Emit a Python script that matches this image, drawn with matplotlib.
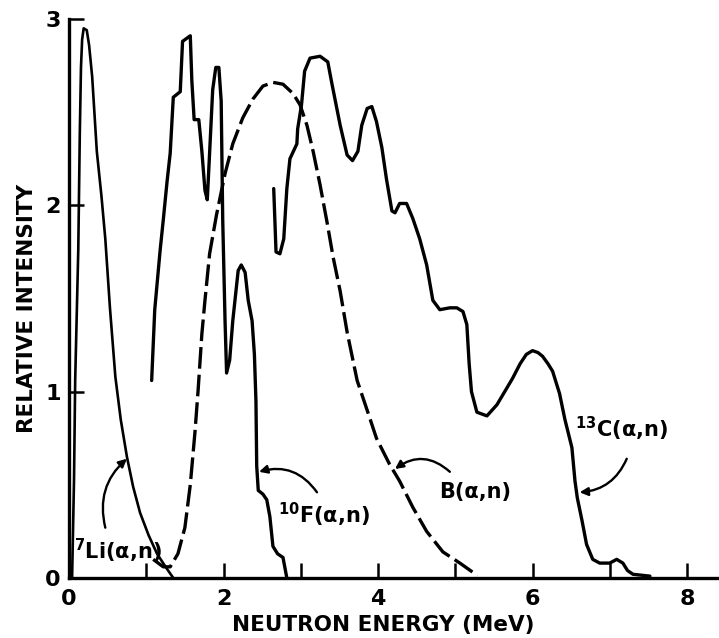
import numpy as np
import matplotlib
matplotlib.use("Agg")
import matplotlib.pyplot as plt

# 7Li(a,n) spectrum
li_e = [0.04, 0.065, 0.08, 0.12, 0.14, 0.155, 0.17, 0.19, 0.23, 0.26, 0.30, 0.36, 0.42,
        0.47, 0.53, 0.60, 0.67, 0.75, 0.83, 0.92, 1.03, 1.14, 1.25, 1.35]
li_i = [0.0, 0.53, 1.06, 1.76, 2.39, 2.74, 2.89, 2.95, 2.94, 2.86, 2.69, 2.29, 2.05,
        1.82, 1.45, 1.08, 0.85, 0.65, 0.49, 0.35, 0.23, 0.13, 0.06, 0.0]

# 10F(a,n) spectrum
f_e = [1.07, 1.11, 1.18, 1.22, 1.27, 1.31, 1.35, 1.44, 1.47, 1.57, 1.59, 1.62, 1.68,
       1.72, 1.76, 1.79, 1.82, 1.86, 1.90, 1.94, 1.97, 1.99, 2.02, 2.04, 2.08, 2.12, 2.19,
       2.23, 2.28, 2.32, 2.37, 2.40, 2.42, 2.43, 2.45, 2.51, 2.56, 2.60, 2.64, 2.70,
       2.77, 2.82]
f_i = [1.06, 1.44, 1.76, 1.92, 2.13, 2.28, 2.58, 2.61, 2.88, 2.91, 2.67, 2.46, 2.46,
       2.29, 2.08, 2.03, 2.28, 2.62, 2.74, 2.74, 2.56, 1.92, 1.38, 1.10, 1.17, 1.38, 1.65,
       1.68, 1.64, 1.49, 1.38, 1.20, 0.95, 0.60, 0.47, 0.45, 0.42, 0.33, 0.17, 0.13,
       0.11, 0.0]

# 13C(a,n) spectrum
c_e = [2.65, 2.68, 2.73, 2.78, 2.82, 2.86, 2.95, 2.96, 3.01, 3.05, 3.12, 3.25, 3.35,
       3.40, 3.51, 3.60, 3.67, 3.74, 3.79, 3.86, 3.92, 3.98, 4.05, 4.11, 4.18, 4.22,
       4.28, 4.37, 4.45, 4.54, 4.63, 4.71, 4.80, 4.93, 5.02, 5.10, 5.15, 5.18, 5.21, 5.28,
       5.41, 5.54, 5.64, 5.74, 5.84, 5.92, 6.00, 6.07, 6.13, 6.20, 6.26, 6.35, 6.42, 6.51,
       6.55, 6.58, 6.64, 6.70, 6.78, 6.87, 7.00, 7.09, 7.17, 7.23, 7.30, 7.52]
c_i = [2.09, 1.75, 1.74, 1.82, 2.09, 2.25, 2.33, 2.41, 2.54, 2.72, 2.79, 2.80, 2.77,
       2.66, 2.43, 2.27, 2.24, 2.29, 2.43, 2.52, 2.53, 2.45, 2.31, 2.14, 1.97, 1.96,
       2.01, 2.01, 1.93, 1.82, 1.68, 1.49, 1.44, 1.45, 1.45, 1.43, 1.36, 1.15, 1.00, 0.89,
       0.87, 0.93, 1.00, 1.07, 1.15, 1.20, 1.22, 1.21, 1.19, 1.15, 1.11, 0.99, 0.85, 0.70,
       0.52, 0.43, 0.31, 0.18, 0.10, 0.08, 0.08, 0.10, 0.08, 0.04, 0.02, 0.01]

# B(a,n) spectrum (dashed)
b_e = [1.09, 1.22, 1.31, 1.41, 1.50, 1.57, 1.63, 1.67, 1.72, 1.76, 1.82, 1.91, 2.02,
       2.12, 2.25, 2.38, 2.51, 2.64, 2.77, 2.90, 2.99, 3.08, 3.16, 3.25, 3.34, 3.42,
       3.51, 3.60, 3.73, 3.86, 3.98, 4.15, 4.28, 4.45, 4.63, 4.84, 5.06, 5.23, 5.28]
b_i = [0.10, 0.06, 0.06, 0.13, 0.27, 0.50, 0.78, 1.00, 1.31, 1.49, 1.74, 1.95, 2.17,
       2.33, 2.47, 2.57, 2.64, 2.66, 2.65, 2.60, 2.54, 2.43, 2.29, 2.11, 1.91, 1.72,
       1.54, 1.32, 1.06, 0.90, 0.75, 0.61, 0.52, 0.38, 0.25, 0.14, 0.08, 0.03, 0.01]

fig = plt.figure(figsize=(7.19, 6.38), dpi=100)
ax = fig.add_axes([69/719, 60/638, 650/719, 559/638])

lw = 2.4
ax.plot(li_e, li_i, color='black', lw=1.9, solid_joinstyle='round')
ax.plot(f_e, f_i, color='black', lw=lw, solid_joinstyle='round', solid_capstyle='round')
ax.plot(c_e, c_i, color='black', lw=lw, solid_joinstyle='round', solid_capstyle='round')
ax.plot(b_e, b_i, color='black', lw=lw, linestyle=(0, (6.5, 1.8)))

ax.set_xlim(0, 650/77.25)
ax.set_ylim(0, 3)
for s in ['top', 'right']:
    ax.spines[s].set_visible(False)
for s in ['left', 'bottom']:
    ax.spines[s].set_linewidth(2.4)

ax.set_xticks([0, 2, 4, 6, 8])
ax.set_xticks([1, 3, 5, 7], minor=True)
ax.set_yticks([0, 1, 2, 3])
ax.tick_params(which='both', direction='in', length=11, width=1.8, labelsize=16, pad=8)
ax.tick_params(axis='y', pad=6)
for lab in ax.get_xticklabels() + ax.get_yticklabels():
    lab.set_fontweight('bold')

ax.set_xlabel('NEUTRON ENERGY (MeV)', fontsize=15.5, fontweight='bold')
ax.xaxis.set_label_coords(0.483, -0.066)
ax.set_ylabel('RELATIVE INTENSITY', fontsize=15.5, fontweight='bold')
ax.yaxis.set_label_coords(-0.049, 0.483)

arrow = dict(arrowstyle='-|>', color='black', lw=1.7, mutation_scale=12, shrinkA=0, shrinkB=0)
tkw = dict(fontsize=15, ha='center', va='center', fontweight='bold')

ax.text(0.63, 0.145, r'$\mathbf{^{7}}$Li(α,n)', **tkw)
ax.annotate('', xy=(0.75, 0.64), xytext=(0.47, 0.27),
            arrowprops=dict(arrow, connectionstyle='arc3,rad=-0.3'))

ax.text(3.30, 0.34, r'$\mathbf{^{10}}$F(α,n)', **tkw)
ax.annotate('', xy=(2.46, 0.57), xytext=(3.21, 0.46),
            arrowprops=dict(arrow, connectionstyle='arc3,rad=0.35'))

ax.text(5.26, 0.46, 'B(α,n)', **tkw)
ax.annotate('', xy=(4.22, 0.585), xytext=(4.93, 0.57),
            arrowprops=dict(arrow, connectionstyle='arc3,rad=0.4'))

ax.text(7.15, 0.80, r'$\mathbf{^{13}}$C(α,n)', **tkw)
ax.annotate('', xy=(6.61, 0.46), xytext=(7.22, 0.64),
            arrowprops=dict(arrow, connectionstyle='arc3,rad=-0.3'))

fig.savefig('out.png', dpi=100)
